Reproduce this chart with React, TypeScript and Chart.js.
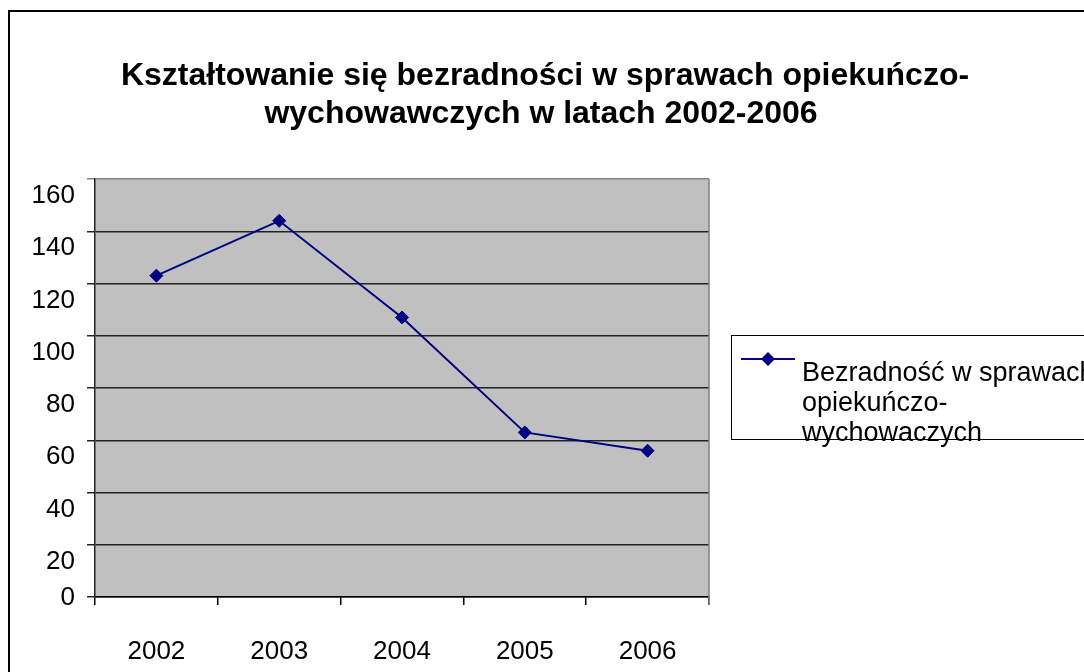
import React, { useEffect, useRef } from "react";
import { Chart, registerables } from "chart.js";

Chart.register(...registerables);

const years = ["2002", "2003", "2004", "2005", "2006"];
const values = [123, 144, 107, 63, 56];
const yTicks = [0, 20, 40, 60, 80, 100, 120, 140, 160];
const titleLines = [
  "Kształtowanie się bezradności w sprawach opiekuńczo-",
  "wychowawczych w latach 2002-2006",
];
const legendLines = ["Bezradność w sprawach", "opiekuńczo-", "wychowaczych"];

const FONT = '"Liberation Sans", Arial, sans-serif';
const NAVY = "#000080";

const decorPlugin = {
  id: "decor",
  beforeDraw(chart: any) {
    const { ctx, chartArea: a } = chart;
    ctx.save();
    ctx.fillStyle = "#ffffff";
    ctx.fillRect(0, 0, chart.width, chart.height);
    ctx.fillStyle = "#c0c0c0";
    ctx.fillRect(a.left, a.top, a.right - a.left, a.bottom - a.top);
    ctx.restore();
  },
  afterDraw(chart: any) {
    const { ctx, chartArea: a } = chart;
    ctx.save();
    // plot right border
    ctx.strokeStyle = "#808080";
    ctx.lineWidth = 1.5;
    ctx.beginPath();
    ctx.moveTo(a.right, a.top);
    ctx.lineTo(a.right, a.bottom + 8);
    ctx.stroke();

    // outer frame
    ctx.strokeStyle = "#000";
    ctx.lineWidth = 2;
    ctx.strokeRect(9, 11, 1100, 700);

    // title
    ctx.fillStyle = "#000";
    ctx.font = `bold 32px ${FONT}`;
    ctx.textAlign = "center";
    ctx.textBaseline = "alphabetic";
    ctx.fillText(titleLines[0], 545, 85);
    ctx.fillText(titleLines[1], 541, 123);

    // y labels
    const ys = chart.scales.y;
    ctx.font = `26px ${FONT}`;
    ctx.textAlign = "right";
    ctx.textBaseline = "middle";
    yTicks.forEach((v) => {
      const py = ys.getPixelForValue(v);
      ctx.fillText(String(v), 75, v === 0 ? py + 1 : py + 17);
    });

    // legend
    ctx.strokeStyle = "#000";
    ctx.lineWidth = 1;
    ctx.strokeRect(731.5, 335.5, 400, 104);
    ctx.strokeStyle = NAVY;
    ctx.lineWidth = 2;
    ctx.beginPath();
    ctx.moveTo(741, 359);
    ctx.lineTo(795, 359);
    ctx.stroke();
    ctx.fillStyle = NAVY;
    ctx.beginPath();
    ctx.moveTo(768 - 7, 359);
    ctx.lineTo(768, 359 - 7);
    ctx.lineTo(768 + 7, 359);
    ctx.lineTo(768, 359 + 7);
    ctx.closePath();
    ctx.fill();
    ctx.fillStyle = "#000";
    ctx.font = `27px ${FONT}`;
    ctx.textAlign = "left";
    ctx.textBaseline = "alphabetic";
    legendLines.forEach((l, i) => ctx.fillText(l, 802, 381 + i * 30));
    ctx.restore();
  },
};

export default function App() {
  const ref = useRef<HTMLCanvasElement>(null);
  useEffect(() => {
    const chart = new Chart(ref.current as HTMLCanvasElement, {
      type: "line",
      data: {
        labels: years,
        datasets: [
          {
            label: legendLines.join(" "),
            data: values,
            borderColor: NAVY,
            backgroundColor: NAVY,
            borderWidth: 2,
            pointStyle: "rectRot",
            pointRadius: 6.5,
            pointBorderWidth: 1,
            pointBorderColor: NAVY,
            pointBackgroundColor: NAVY,
            tension: 0,
          },
        ],
      },
      options: {
        animation: false,
        responsive: false,
        layout: { padding: { top: 179, right: 375, bottom: 0, left: 0 } },
        plugins: { legend: { display: false }, title: { display: false }, tooltip: { enabled: false } },
        scales: {
          x: {
            offset: true,
            afterFit: (s: any) => {
              s.height = 75;
            },
            grid: {
              offset: true,
              drawOnChartArea: false,
              drawTicks: true,
              tickLength: 8,
              color: "#000",
              lineWidth: 1.5,
            },
            border: { display: true, color: "#000", width: 1.5 },
            ticks: {
              color: "#000",
              font: { family: FONT, size: 26 },
              padding: 31,
              maxRotation: 0,
            },
          },
          y: {
            min: 0,
            max: 160,
            afterFit: (s: any) => {
              s.width = 95;
            },
            ticks: { stepSize: 20, display: false },
            grid: {
              color: (c: any) => (c.tick && c.tick.value === 160 ? "#808080" : "#222"),
              lineWidth: 1.5,
              drawTicks: true,
              tickLength: 8,
            },
            border: { display: true, color: "#222", width: 1.5 },
          },
        },
      },
      plugins: [decorPlugin],
    });
    return () => chart.destroy();
  }, []);
  return (
    <div style={{ position: "fixed", left: 0, top: 0, width: 1084, height: 672 }}>
      <canvas ref={ref} width={1084} height={672} />
    </div>
  );
}
